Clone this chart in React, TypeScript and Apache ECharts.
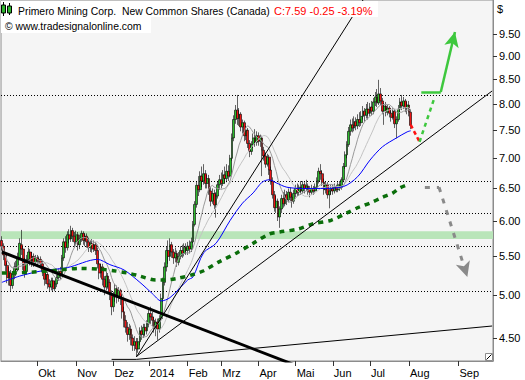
import React, { useEffect, useRef } from "react";
import * as echarts from "echarts";

// ---- OHLC per month: [open, close, low, high] ----
const sep2013 = [
  [5.72, 5.64, 5.58, 5.78], [5.64, 5.52, 5.45, 5.68], [5.52, 5.38, 5.30, 5.56], [5.38, 5.22, 5.15, 5.42],
  [5.22, 5.30, 5.12, 5.36], [5.28, 5.12, 5.04, 5.32], [5.12, 5.26, 5.08, 5.30], [5.26, 5.36, 5.20, 5.42],
  [5.36, 5.32, 5.24, 5.44], [5.32, 5.48, 5.30, 5.55], [5.48, 5.68, 5.45, 5.75], [5.66, 5.60, 5.52, 5.87],
  [5.60, 5.40, 5.32, 5.64], [5.40, 5.30, 5.22, 5.48], [5.30, 5.46, 5.26, 5.52], [5.46, 5.56, 5.40, 5.62],
  [5.56, 5.44, 5.38, 5.60], [5.44, 5.50, 5.36, 5.56], [5.50, 5.42, 5.36, 5.54], [5.42, 5.48, 5.38, 5.52],
];
const oct2013 = [
  [5.48, 5.44, 5.38, 5.52], [5.44, 5.46, 5.40, 5.50], [5.46, 5.40, 5.34, 5.50], [5.40, 5.30, 5.24, 5.44],
  [5.30, 5.20, 5.12, 5.34], [5.20, 5.26, 5.14, 5.30], [5.26, 5.14, 5.08, 5.30], [5.14, 5.10, 5.04, 5.20],
  [5.10, 5.18, 5.06, 5.22], [5.18, 5.08, 5.04, 5.22], [5.08, 5.14, 5.05, 5.18], [5.14, 5.22, 5.10, 5.26],
  [5.22, 5.30, 5.18, 5.34], [5.30, 5.26, 5.20, 5.36], [5.26, 5.48, 5.24, 5.52], [5.48, 5.70, 5.44, 5.75],
  [5.70, 5.62, 5.55, 5.78], [5.62, 5.80, 5.58, 5.85], [5.80, 5.74, 5.68, 5.88], [5.74, 5.86, 5.70, 5.93],
  [5.86, 5.78, 5.70, 5.90], [5.78, 5.70, 5.62, 5.84],
];
const nov2013 = [
  [5.70, 5.80, 5.66, 5.86], [5.80, 5.66, 5.58, 5.84], [5.66, 5.74, 5.60, 5.80], [5.74, 5.82, 5.70, 5.86],
  [5.82, 5.72, 5.66, 5.85], [5.72, 5.78, 5.64, 5.82], [5.78, 5.70, 5.62, 5.82], [5.70, 5.62, 5.56, 5.76],
  [5.62, 5.68, 5.56, 5.72], [5.68, 5.60, 5.55, 5.74], [5.60, 5.66, 5.56, 5.72], [5.66, 5.58, 5.52, 5.70],
  [5.58, 5.40, 5.34, 5.62], [5.40, 5.28, 5.20, 5.44], [5.28, 5.36, 5.22, 5.40], [5.36, 5.20, 5.12, 5.40],
  [5.20, 5.10, 5.00, 5.24], [5.10, 5.24, 5.06, 5.30], [5.24, 5.16, 5.08, 5.28], [5.16, 5.02, 4.94, 5.20],
  [5.02, 4.86, 4.76, 5.06],
];
const dec2013 = [
  [4.86, 4.98, 4.80, 5.04], [4.98, 5.08, 4.92, 5.14], [5.08, 4.98, 4.90, 5.12], [4.98, 5.06, 4.92, 5.10],
  [5.06, 4.96, 4.88, 5.08], [4.96, 4.80, 4.72, 5.00], [4.80, 4.70, 4.62, 4.86], [4.70, 4.62, 4.56, 4.76],
  [4.62, 4.54, 4.46, 4.68], [4.54, 4.60, 4.48, 4.66], [4.60, 4.50, 4.42, 4.64], [4.50, 4.42, 4.36, 4.54],
  [4.42, 4.46, 4.36, 4.52], [4.46, 4.38, 4.30, 4.50], [4.38, 4.46, 4.34, 4.50], [4.46, 4.58, 4.42, 4.62],
  [4.58, 4.54, 4.48, 4.64], [4.54, 4.62, 4.50, 4.66], [4.62, 4.58, 4.52, 4.66], [4.58, 4.66, 4.54, 4.70],
];
const jan2014 = [
  [4.66, 4.78, 4.62, 4.84], [4.78, 4.74, 4.66, 4.86], [4.74, 4.70, 4.62, 4.80], [4.70, 4.62, 4.56, 4.74],
  [4.62, 4.68, 4.52, 4.72], [4.68, 4.60, 4.48, 4.72], [4.60, 4.72, 4.56, 4.76], [4.72, 4.96, 4.70, 5.02],
  [4.96, 5.16, 4.92, 5.22], [5.16, 5.36, 5.12, 5.42], [5.36, 5.58, 5.30, 5.64], [5.58, 5.50, 5.40, 5.72],
  [5.50, 5.66, 5.44, 5.75], [5.66, 5.56, 5.48, 5.70], [5.56, 5.48, 5.40, 5.60], [5.48, 5.54, 5.42, 5.62],
  [5.54, 5.42, 5.36, 5.58], [5.42, 5.50, 5.38, 5.56], [5.50, 5.58, 5.46, 5.64], [5.58, 5.54, 5.48, 5.66],
  [5.54, 5.62, 5.50, 5.68], [5.62, 5.58, 5.52, 5.68],
];
const feb2014 = [
  [5.58, 5.64, 5.52, 5.70], [5.64, 5.60, 5.54, 5.72], [5.60, 5.70, 5.56, 5.76], [5.70, 5.95, 5.68, 6.00],
  [5.95, 6.25, 5.92, 6.30], [6.25, 6.55, 6.20, 6.62], [6.55, 6.48, 6.38, 6.70], [6.48, 6.70, 6.44, 6.78],
  [6.70, 6.62, 6.52, 6.86], [6.62, 6.74, 6.56, 6.90], [6.74, 6.58, 6.50, 6.80], [6.58, 6.66, 6.50, 6.72],
  [6.66, 6.46, 6.40, 6.72], [6.46, 6.30, 6.22, 6.52], [6.30, 6.42, 6.26, 6.50], [6.42, 6.24, 6.18, 6.48],
  [6.24, 6.38, 6.05, 6.44], [6.38, 6.56, 6.34, 6.62], [6.56, 6.64, 6.48, 6.72],
];
const mar2014 = [
  [6.64, 6.58, 6.50, 6.76], [6.58, 6.72, 6.54, 6.80], [6.72, 6.66, 6.58, 6.86], [6.66, 6.78, 6.60, 6.90],
  [6.78, 6.70, 6.62, 6.88], [6.70, 7.00, 6.68, 7.06], [7.00, 7.36, 6.96, 7.44], [7.36, 7.70, 7.30, 7.78],
  [7.70, 7.88, 7.62, 7.98], [7.88, 7.72, 7.60, 8.18], [7.72, 7.80, 7.58, 7.92], [7.80, 7.56, 7.48, 7.84],
  [7.56, 7.64, 7.44, 7.70], [7.64, 7.40, 7.30, 7.68], [7.40, 7.50, 7.32, 7.58], [7.50, 7.26, 7.18, 7.54],
  [7.26, 7.12, 7.02, 7.32], [7.12, 7.24, 7.06, 7.30], [7.24, 7.36, 7.18, 7.44], [7.36, 7.28, 7.20, 7.52],
  [7.28, 7.40, 7.22, 7.48],
];
const apr2014 = [
  [7.40, 7.30, 7.22, 7.46], [7.30, 7.36, 7.20, 7.42], [7.36, 7.14, 6.70, 7.40], [7.14, 7.04, 6.96, 7.20],
  [7.04, 6.90, 6.84, 7.10], [6.90, 7.02, 6.86, 7.08], [7.02, 6.80, 6.72, 7.06], [6.80, 6.62, 6.56, 6.86],
  [6.62, 6.40, 6.34, 6.68], [6.40, 6.20, 6.14, 6.46], [6.20, 6.30, 6.12, 6.38], [6.30, 6.06, 6.00, 6.34],
  [6.06, 6.18, 5.90, 6.22], [6.18, 6.34, 6.12, 6.40], [6.34, 6.26, 6.20, 6.44], [6.26, 6.40, 6.22, 6.48],
  [6.40, 6.32, 6.24, 6.46], [6.32, 6.44, 6.28, 6.50], [6.44, 6.36, 6.30, 6.52], [6.36, 6.30, 6.20, 6.42],
  [6.30, 6.42, 6.26, 6.48],
];
const may2014 = [
  [6.42, 6.50, 6.36, 6.56], [6.50, 6.44, 6.38, 6.58], [6.44, 6.52, 6.38, 6.56], [6.52, 6.46, 6.40, 6.62],
  [6.46, 6.56, 6.42, 6.62], [6.56, 6.50, 6.42, 6.60], [6.50, 6.54, 6.46, 6.64], [6.54, 6.48, 6.40, 6.58],
  [6.48, 6.44, 6.36, 6.54], [6.44, 6.50, 6.40, 6.56], [6.50, 6.46, 6.40, 6.54], [6.46, 6.52, 6.42, 6.58],
  [6.52, 6.62, 6.48, 6.68], [6.62, 6.78, 6.58, 6.84], [6.78, 6.74, 6.64, 6.90], [6.74, 6.60, 6.54, 6.80],
  [6.60, 6.48, 6.40, 6.66], [6.48, 6.56, 6.42, 6.62], [6.56, 6.40, 6.34, 6.60], [6.40, 6.46, 6.19, 6.50],
  [6.46, 6.50, 6.40, 6.56],
];
const jun2014 = [
  [6.50, 6.46, 6.40, 6.56], [6.46, 6.52, 6.42, 6.58], [6.52, 6.48, 6.44, 6.56], [6.48, 6.56, 6.44, 6.60],
  [6.56, 6.52, 6.46, 6.62], [6.52, 6.64, 6.48, 6.68], [6.64, 6.86, 6.60, 6.92], [6.86, 7.06, 6.82, 7.12],
  [7.06, 7.24, 7.00, 7.30], [7.24, 7.48, 7.20, 7.56], [7.48, 7.60, 7.40, 7.70], [7.60, 7.54, 7.46, 7.72],
  [7.54, 7.66, 7.48, 7.76], [7.66, 7.58, 7.50, 7.74], [7.58, 7.70, 7.52, 7.80], [7.70, 7.64, 7.56, 7.84],
  [7.64, 7.76, 7.58, 7.86], [7.76, 7.86, 7.70, 7.96], [7.86, 7.78, 7.66, 7.92], [7.78, 7.90, 7.72, 8.00],
  [7.90, 7.82, 7.70, 8.04],
];
const jul2014 = [
  [7.82, 7.94, 7.76, 8.02], [7.94, 7.86, 7.78, 8.06], [7.86, 8.04, 7.80, 8.12], [8.04, 8.14, 7.96, 8.24],
  [8.14, 8.02, 7.94, 8.30], [8.02, 8.20, 7.98, 8.49], [8.20, 8.06, 7.98, 8.32], [8.06, 7.86, 7.80, 8.12],
  [7.86, 7.96, 7.60, 8.02], [7.96, 7.84, 7.76, 8.04], [7.84, 7.92, 7.78, 7.98], [7.92, 7.82, 7.74, 7.96],
  [7.82, 7.74, 7.66, 7.88], [7.74, 7.86, 7.70, 7.92], [7.86, 7.62, 7.54, 7.90], [7.62, 7.70, 7.35, 7.76],
  [7.70, 7.90, 7.66, 7.98], [7.90, 8.04, 7.84, 8.12], [8.04, 7.96, 7.88, 8.18], [7.96, 8.06, 7.90, 8.14],
  [8.06, 7.92, 7.84, 8.10], [7.92, 7.98, 7.80, 8.04],
];
const aug2014 = [
  [7.98, 7.84, 7.76, 8.06], [7.84, 7.59, 7.52, 7.90],
];

// ---- indicators: [barIndex, price] ----
const blueMA = [
  [0, 5.16], [10, 5.24], [23, 5.31], [37, 5.35], [54, 5.46], [61, 5.39], [69, 5.32], [78, 5.16],
  [85, 5.02], [90, 4.93], [95, 4.97], [105, 5.19], [108, 5.23], [114, 5.55], [121, 5.68], [129, 6.01],
  [136, 6.27], [142, 6.43], [147, 6.60], [151, 6.64], [155, 6.59], [161, 6.52], [170, 6.50], [180, 6.50],
  [193, 6.53], [201, 6.69], [208, 6.97], [215, 7.20], [223, 7.36], [229, 7.47], [231, 7.49],
];
const greenMA = [
  [0, 5.28], [16, 5.29], [33, 5.32], [44, 5.34], [55, 5.33], [63, 5.31], [71, 5.28], [78, 5.24],
  [87, 5.19], [91, 5.19], [99, 5.21], [108, 5.26], [114, 5.31], [123, 5.43], [133, 5.55], [142, 5.68],
  [151, 5.81], [157, 5.84], [167, 5.88], [176, 5.96], [186, 6.01], [195, 6.12], [202, 6.21], [208, 6.27],
  [215, 6.36], [221, 6.43], [225, 6.51], [230, 6.57],
];

// ---- drawn lines: [barIndex, price] endpoints ----
const downTrend = [[0, 5.56], [170, 4.18]];
const steepTrend = [[76, 4.295], [210, 10.76]];
const midTrend = [[76, 4.30], [277, 8.26]];
const flatTrend = [[76, 4.27], [277, 4.635]];
const lowLevel = [[62, 4.27], [76, 4.27]];
const redPath = [[231, 7.60], [236, 7.29]];
const greenDash = [[236, 7.29], [244, 8.08]];
const greenLevel = [[237, 8.24], [248, 8.24]];
const greenArrow = [[248, 8.24], [256, 9.55]];
const grayLevel = [[239, 6.52], [247, 6.52]];
const grayArrow = [[247, 6.52], [263, 5.23]];

const dottedLevels = [8.18, 6.62, 6.13, 5.64, 5.04];
const zoneBand = [5.74, 5.85];
const yTicks = [4.5, 5, 5.5, 6, 6.5, 7, 7.5, 8, 8.5, 9, 9.5];
const yRange = [4.253, 10.33];
const monthNames = ["Jan", "Feb", "Mrz", "Apr", "Mai", "Jun", "Jul", "Aug", "Sep", "Okt", "Nov", "Dez"];
const holidays = [
  "2013-10-14", "2013-12-25", "2013-12-26", "2014-01-01", "2014-02-17",
  "2014-04-18", "2014-05-19", "2014-07-01", "2014-08-04",
];
const FUTURE_DAYS = 46;

const FONT = "Liberation Sans, Arial, sans-serif";
const L = Math.log;

function buildCategories(): string[] {
  const out: string[] = [];
  const d = new Date(Date.UTC(2013, 8, 3));
  const end = Date.UTC(2014, 7, 5);
  while (d.getTime() <= end) {
    const s = d.toISOString().slice(0, 10);
    const wd = d.getUTCDay();
    if (wd !== 0 && wd !== 6 && holidays.indexOf(s) < 0) out.push(s);
    d.setUTCDate(d.getUTCDate() + 1);
  }
  for (let k = 0; k < FUTURE_DAYS; k++) {
    out.push(d.toISOString().slice(0, 10));
    d.setUTCDate(d.getUTCDate() + 1);
  }
  return out;
}

function sma(vals: number[], n: number): number[] {
  return vals.map((_, i) => {
    const s = Math.max(0, i - n + 1);
    let sum = 0;
    for (let k = s; k <= i; k++) sum += vals[k];
    return sum / (i - s + 1);
  });
}

const toLn = (pts: number[][]) => pts.map(([i, p]) => [i, L(p)]);

export default function App() {
  const ref = useRef<HTMLDivElement>(null);
  useEffect(() => {
    if (!ref.current) return;
    const chart = echarts.init(ref.current, undefined, { renderer: "svg" });
    const cats = buildCategories();
    const bars = [
      ...sep2013, ...oct2013, ...nov2013, ...dec2013, ...jan2014, ...feb2014,
      ...mar2014, ...apr2014, ...may2014, ...jun2014, ...jul2014, ...aug2014,
    ];
    const closes = bars.map((b) => b[1]);
    const candle = bars.map((b) => b.map(L));
    const ma10 = sma(closes, 10).map((v, i) => [i, v]);
    const ma20 = sma(closes, 20).map((v, i) => [i, v]);
    const last = closes[closes.length - 1];
    const prev = closes[closes.length - 2];
    const chg = last - prev;
    const headerC = `C:${last.toFixed(2)} ${chg.toFixed(2)} ${((chg / prev) * 100).toFixed(2)}%`;

    const isMonthStart = (i: number) =>
      i > 0 && i < cats.length && cats[i].slice(0, 7) !== cats[i - 1].slice(0, 7);
    const fmtMonth = (v: string) => {
      const m = parseInt(v.slice(5, 7), 10) - 1;
      return m === 0 ? v.slice(0, 4) : monthNames[m];
    };

    const lineSeries = (data: number[][], color: string, width: number, type: any = "solid", smooth: any = false, z = 3) => ({
      type: "line",
      data: toLn(data),
      symbol: "none",
      showSymbol: false,
      smooth,
      silent: true,
      clip: true,
      z,
      lineStyle: { color, width, type },
      emphasis: { disabled: true },
    });

    const arrowSeg = (pts: number[][], color: string, width: number, type: any) => [
      { coord: [pts[0][0], L(pts[0][1])], symbol: "none", lineStyle: { color, width, type } },
      { coord: [pts[1][0], L(pts[1][1])], symbol: "arrow", symbolSize: [11, 15] },
    ];
    const plainSeg = (pts: number[][], color: string, width: number, type: any) => [
      { coord: [pts[0][0], L(pts[0][1])], symbol: "none", lineStyle: { color, width, type } },
      { coord: [pts[1][0], L(pts[1][1])], symbol: "none" },
    ];

    const option: any = {
      animation: false,
      backgroundColor: "#ffffff",
      grid: {
        left: 1, right: 32, top: 0, bottom: 19, show: true,
        backgroundColor: "#f5f5f5", borderColor: "#8c8c8c", borderWidth: 1,
      },
      xAxis: {
        type: "category",
        data: cats,
        boundaryGap: true,
        axisLine: { show: true, lineStyle: { color: "#8c8c8c" } },
        axisTick: {
          show: true, interval: (i: number) => isMonthStart(i), alignWithLabel: true,
          length: 5, lineStyle: { color: "#333" },
        },
        axisLabel: {
          interval: (i: number) => isMonthStart(i), formatter: fmtMonth, align: "left",
          padding: [0, 0, 0, 1], color: "#000", fontSize: 11, fontFamily: FONT, margin: 6,
        },
        splitLine: { show: false },
      },
      yAxis: {
        type: "value",
        position: "right",
        min: L(yRange[0]),
        max: L(yRange[1]),
        axisLine: { show: true, lineStyle: { color: "#8c8c8c" } },
        axisTick: { show: true, length: 4, lineStyle: { color: "#333" }, customValues: yTicks.map(L) },
        axisLabel: {
          customValues: yTicks.map(L), formatter: (v: number) => Math.exp(v).toFixed(2),
          color: "#000", fontSize: 11, fontFamily: FONT, margin: 6,
        },
        splitLine: { show: false },
      },
      series: [
        {
          type: "candlestick",
          data: candle,
          barWidth: 2.3,
          z: 2,
          silent: true,
          itemStyle: {
            color: "#2cbc2c", color0: "#ee1414", borderColor: "#000", borderColor0: "#000", borderWidth: 0.6,
          },
          emphasis: { disabled: true },
          markLine: {
            silent: true, symbol: ["none", "none"], label: { show: false },
            lineStyle: { color: "#000", width: 1, type: [1, 2] },
            emphasis: { disabled: true },
            data: dottedLevels.map((v) => ({ yAxis: L(v) })),
            z: 1,
          },
          markArea: {
            silent: true,
            itemStyle: { color: "#b9e5b9" },
            emphasis: { disabled: true },
            data: [[{ yAxis: L(zoneBand[0]) }, { yAxis: L(zoneBand[1]) }]],
            z: 1,
          },
        },
        lineSeries(ma20, "#c4c4c4", 1),
        lineSeries(ma10, "#9a9a9a", 1),
        lineSeries(blueMA, "#0000ff", 1, "solid", 0.3),
        lineSeries(greenMA, "#0b6e0b", 3.5, [5, 5], 0.3),
        lineSeries(downTrend, "#000", 3),
        lineSeries(steepTrend, "#000", 1),
        lineSeries(midTrend, "#000", 1),
        lineSeries(flatTrend, "#000", 1),
        lineSeries(lowLevel, "#000", 1),
        {
          type: "line",
          data: [],
          silent: true,
          z: 5,
          markLine: {
            silent: true,
            symbol: ["none", "none"],
            label: { show: false },
            emphasis: { disabled: true },
            data: [
              plainSeg(redPath, "#ff1010", 2.5, [4, 3]),
              plainSeg(greenDash, "#3ec83e", 2.5, [4, 4]),
              plainSeg(greenLevel, "#3ec83e", 2.5, "solid"),
              arrowSeg(greenArrow, "#3ec83e", 2.5, "solid"),
              plainSeg(grayLevel, "#8a8a8a", 3, [5, 7]),
              arrowSeg(grayArrow, "#8a8a8a", 3, [5, 7]),
            ],
          },
        },
      ],
      graphic: [
        { type: "rect", z: 100, shape: { x: 1, y: 1, width: 377, height: 16 }, style: { fill: "#ffffff" } },
        { type: "rect", z: 100, shape: { x: 1, y: 17, width: 150, height: 16 }, style: { fill: "#ffffff" } },
        { type: "line", z: 101, shape: { x1: 3.5, y1: 2, x2: 3.5, y2: 16 }, style: { stroke: "#000", lineWidth: 1 } },
        { type: "rect", z: 102, shape: { x: 1.5, y: 5, width: 4, height: 8 }, style: { fill: "#2fb52f", stroke: "#000", lineWidth: 1 } },
        { type: "line", z: 101, shape: { x1: 9.5, y1: 3, x2: 9.5, y2: 15 }, style: { stroke: "#000", lineWidth: 1 } },
        { type: "rect", z: 102, shape: { x: 7.5, y: 6, width: 4, height: 7 }, style: { fill: "#2fb52f", stroke: "#000", lineWidth: 1 } },
        {
          type: "text", z: 103, x: 18, y: 11,
          style: { text: "Primero Mining Corp.  New Common Shares (Canada)", fill: "#000", font: `10.4px ${FONT}`, verticalAlign: "middle" },
        },
        {
          type: "text", z: 103, x: 274, y: 11,
          style: { text: headerC, fill: "#ff0000", font: `11px ${FONT}`, verticalAlign: "middle" },
        },
        {
          type: "text", z: 103, x: 5, y: 26,
          style: { text: "© www.tradesignalonline.com", fill: "#000", font: `10.4px ${FONT}`, verticalAlign: "middle" },
        },
        {
          type: "text", z: 103, x: 497, y: 9,
          style: { text: "$", fill: "#000", font: `11px ${FONT}`, verticalAlign: "middle" },
        },
        { type: "rect", z: 103, shape: { x: 485.5, y: 353.5, width: 7, height: 7 }, style: { fill: "#ffffff", stroke: "#8c8c8c", lineWidth: 1 } },
        { type: "line", z: 104, shape: { x1: 486.5, y1: 359.5, x2: 491.5, y2: 354.5 }, style: { stroke: "#000", lineWidth: 1 } },
      ],
    };
    chart.setOption(option);
    return () => chart.dispose();
  }, []);
  return <div ref={ref} style={{ position: "absolute", left: 0, top: 0, width: 525, height: 380 }} />;
}
